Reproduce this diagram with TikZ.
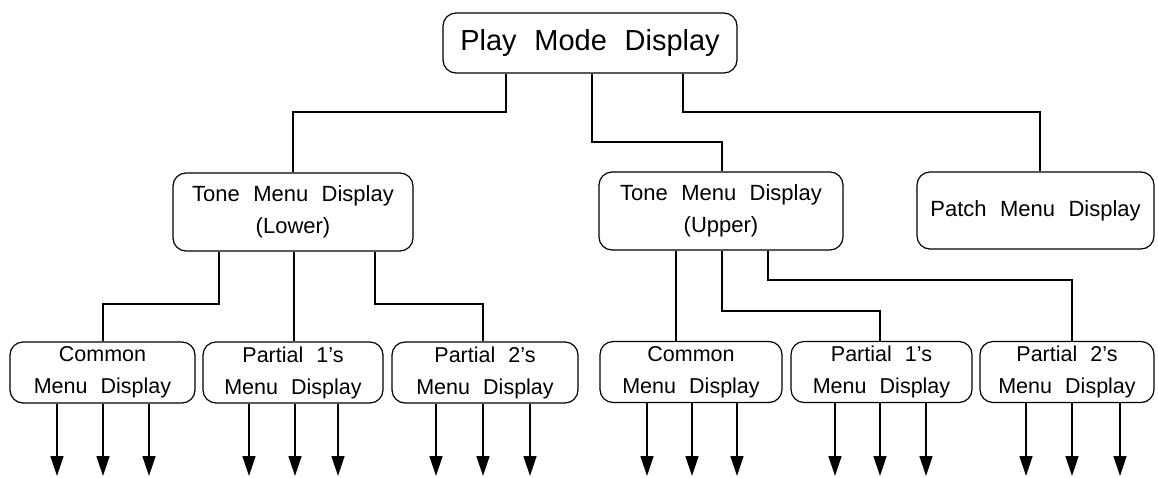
\documentclass[tikz,border=0pt]{standalone}
\usepackage{fontspec}
\setmainfont{Liberation Sans}[WordSpace=2.2]
\usetikzlibrary{arrows.meta}
\begin{document}
\begin{tikzpicture}[x=1pt,y=-1pt,
  box/.style={draw, line width=1.2pt, rounded corners=13pt, inner sep=0pt, align=center},
  bigbox/.style={box, font=\fontsize{29}{34}\selectfont},
  midbox/.style={box, font=\fontsize{22}{32}\selectfont},
  lowbox/.style={box, minimum height=61pt, font=\fontsize{21.5}{32}\selectfont},
  conn/.style={line width=1.1pt},
  arr/.style={line width=1.5pt, -{Triangle[length=20pt,width=13pt]}}]
\useasboundingbox (0,0) rectangle (1158,477);
% boxes
\node[bigbox, minimum width=294pt, minimum height=60pt] (play) at (590,43) {Play Mode Display};
\node[midbox, minimum width=240pt, minimum height=78pt] (tl) at (293,212) {Tone Menu Display\\(Lower)};
\node[midbox, minimum width=244pt, minimum height=78pt] (tu) at (721,211) {Tone Menu Display\\(Upper)};
\node[midbox, minimum width=237pt, minimum height=77pt] (patch) at (1035.5,210.5) {Patch Menu Display};
\node[lowbox, minimum width=185pt] (cl) at (102.5,372.5) {Common\\Menu Display};
\node[lowbox, minimum width=180pt] (p1l) at (293,372.5) {Partial 1's\\Menu Display};
\node[lowbox, minimum width=186pt] (p2l) at (485,372.5) {Partial 2's\\Menu Display};
\node[lowbox, minimum width=182pt] (cu) at (691,372) {Common\\Menu Display};
\node[lowbox, minimum width=181pt] (p1u) at (881.5,372) {Partial 1's\\Menu Display};
\node[lowbox, minimum width=174pt] (p2u) at (1067,372) {Partial 2's\\Menu Display};
% x guides for connectors
\coordinate (xa) at (506,0);  \coordinate (xb) at (592,0);  \coordinate (xc) at (683,0);
\coordinate (xd) at (219,0);  \coordinate (xe) at (294,0);  \coordinate (xf) at (375,0);
\coordinate (xg) at (676,0);  \coordinate (xh) at (722,0);  \coordinate (xi) at (768,0);
\coordinate (ya) at (0,112);  \coordinate (yb) at (0,142);  \coordinate (yc) at (0,304);
\coordinate (yd) at (0,311);  \coordinate (ye) at (0,280);
% top level connectors
\draw[conn] (play.south -| xa) -- (xa |- ya) -| (tl.north);
\draw[conn] (play.south -| xb) -- (xb |- yb) -| (tu.north -| xh);
\draw[conn] (play.south -| xc) -- (xc |- ya) -| (patch.north -| 1040,0);
% lower tone connectors
\draw[conn] (tl.south -| xd) -- (xd |- yc) -| (cl.north -| 103,0);
\draw[conn] (tl.south -| xe) -- (p1l.north -| xe);
\draw[conn] (tl.south -| xf) -- (xf |- yc) -| (p2l.north -| 483,0);
% upper tone connectors
\draw[conn] (tu.south -| xg) -- (cu.north -| xg);
\draw[conn] (tu.south -| xh) -- (xh |- yd) -| (p1u.north -| 880,0);
\draw[conn] (tu.south -| xi) -- (xi |- ye) -| (p2u.north -| 1072,0);
% output arrows
\foreach \b/\xs in {cl/{57,103,149}, p1l/{249,295,338}, p2l/{436,483,530},
                    cu/{647,692,737}, p1u/{835,880,926}, p2u/{1026,1072,1120}}{
  \foreach \x [count=\i] in \xs {
    \coordinate (end-\b-\i) at (\x,476);
    \draw[arr] (\b.south -| end-\b-\i) -- (end-\b-\i);
  }
}
\end{tikzpicture}
\end{document}
